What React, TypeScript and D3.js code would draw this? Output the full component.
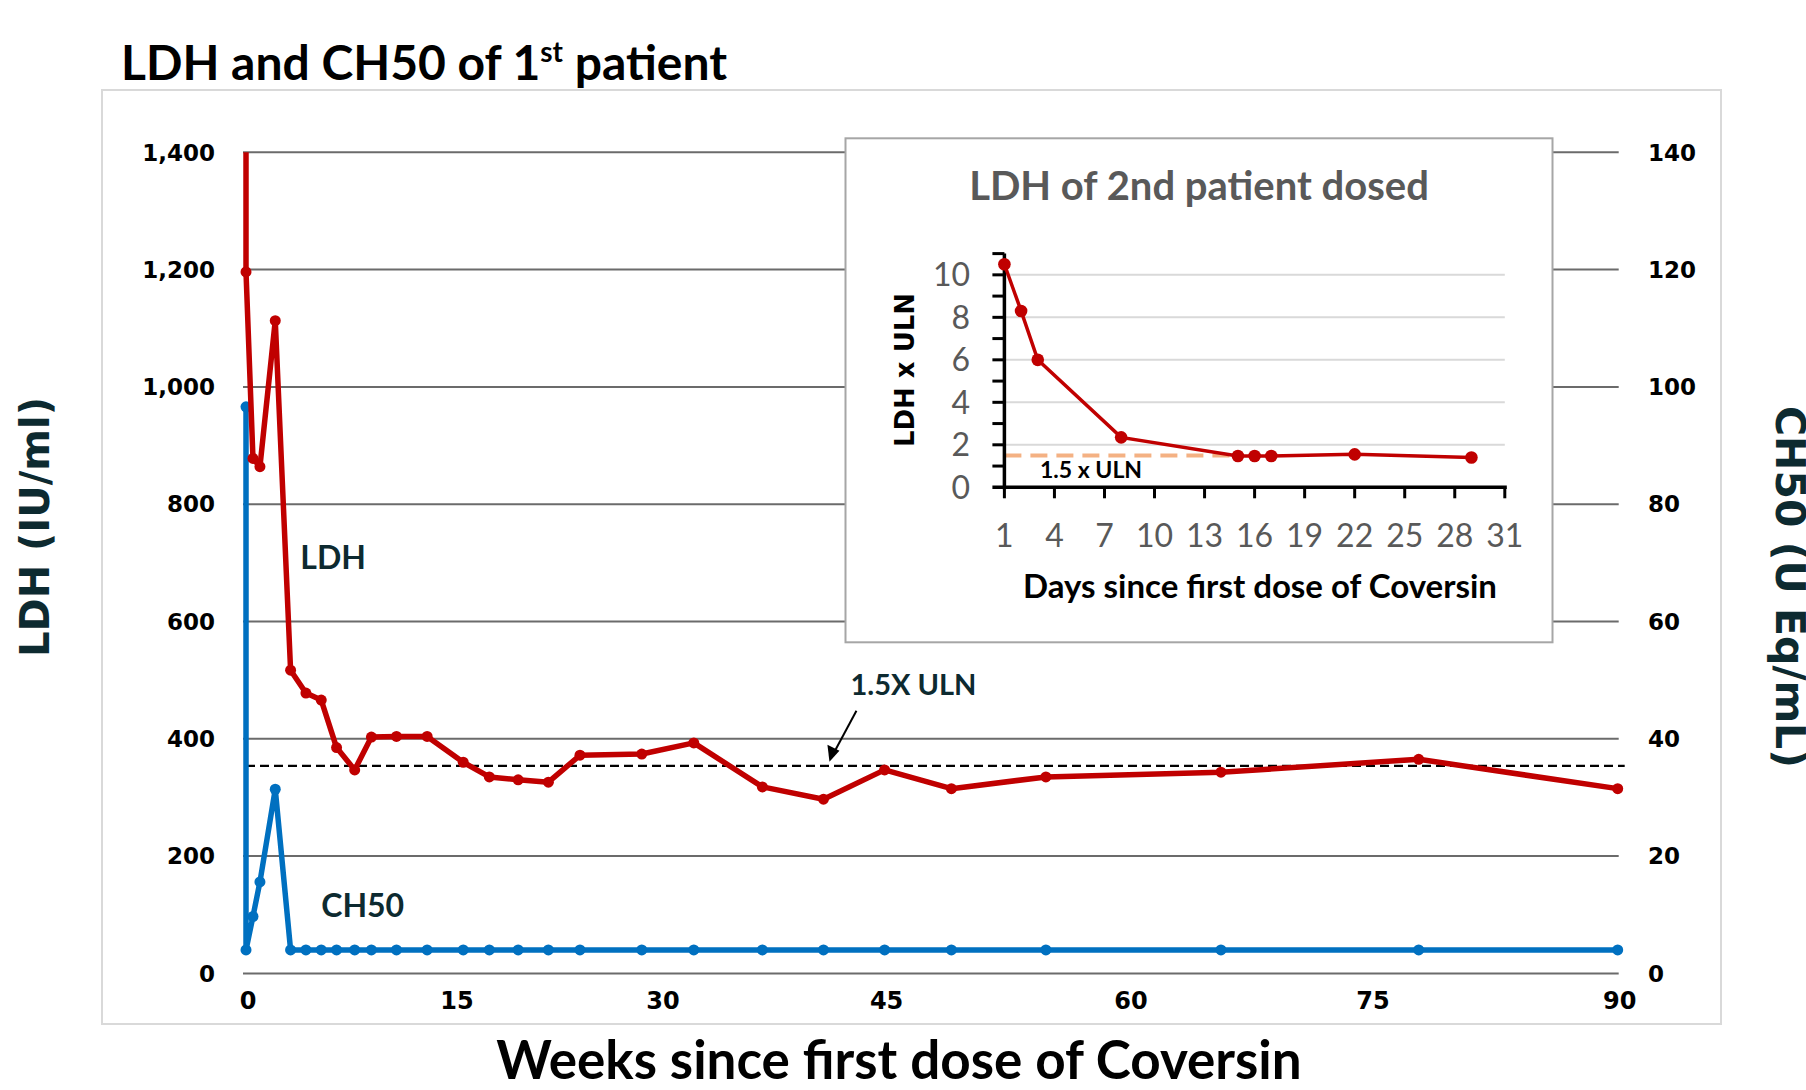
import React, { useEffect, useRef } from "react";
import * as d3 from "d3";

// patient 1: weeks since first dose, LDH (IU/ml) and CH50 (U Eq/mL)
const weeks = [0, 0, 0.5, 1, 2.1, 3.2, 4.3, 5.4, 6.5, 7.8, 9, 10.8, 13, 15.6, 17.5, 19.6, 21.8, 24.1, 28.6, 32.2, 36.8, 40.9, 45, 49.1, 54.9, 65.7, 77.9, 90];
const ldh = [1500, 1196, 878, 864, 1113, 517, 478, 466, 385, 347, 403, 404, 404, 360, 335, 330, 326, 372, 374, 393, 318, 297, 347, 315, 335, 343, 365, 315];
const ch50 = [96.6, 4, 9.7, 15.6, 31.4, 4, 4, 4, 4, 4, 4, 4, 4, 4, 4, 4, 4, 4, 4, 4, 4, 4, 4, 4, 4, 4, 4, 4];
const weekTicks = [0, 15, 30, 45, 60, 75, 90];
const ldhTicks = [0, 200, 400, 600, 800, 1000, 1200, 1400];
const ch50Ticks = [0, 20, 40, 60, 80, 100, 120, 140];
const ldhUlnLimit = 354;

// patient 2 (inset): days since first dose, LDH x ULN
const days = [1, 2, 3, 8, 15, 16, 17, 22, 29];
const ldhXUln = [10.5, 8.3, 6.0, 2.35, 1.47, 1.47, 1.47, 1.55, 1.4];
const dayTicks = [1, 4, 7, 10, 13, 16, 19, 22, 25, 28, 31];
const ulnTicks = [0, 2, 4, 6, 8, 10];
const insetLimit = 1.5;

const CAL = "Lato, 'Open Sans', sans-serif";
const VER = "'DejaVu Sans', Verdana, sans-serif";
const RED = "#c00000";
const BLUE = "#0070c0";
const INK = "#0d2a30";

const App = () => {
  const chartRef = useRef<SVGSVGElement>(null);

  const drawChart = () => {
    const svg = d3.select(chartRef.current);
    svg.selectAll("*").remove();

    // weeks axis is unevenly spaced in the original, so use a piecewise scale
    const x = d3.scaleLinear().domain(weekTicks).range([246, 455, 661, 884.6, 1129, 1371, 1617.7]);
    const y = d3.scaleLinear().domain([0, 1400]).range([973.4, 152.3]);
    const y2 = d3.scaleLinear().domain([0, 140]).range([973.4, 152.3]);
    const [x0, x1] = [x(0), x(90)];

    svg.append("rect").attr("width", 1806).attr("height", 1090).attr("fill", "#fff");
    svg.append("rect")
      .attr("x", 102).attr("y", 90).attr("width", 1619).attr("height", 934)
      .attr("fill", "#fff").attr("stroke", "#d9d9d9").attr("stroke-width", 2);

    // title
    const title = svg.append("text")
      .attr("x", 121).attr("y", 80)
      .attr("font-family", CAL).attr("font-weight", 700).attr("font-size", 48)
      .attr("fill", "#000");
    title.append("tspan").text("LDH and CH50 of 1");
    title.append("tspan").attr("dy", -18).attr("font-size", 28).text("st");
    title.append("tspan").attr("dy", 18).text(" patient");

    // gridlines
    svg.append("g").selectAll("line").data(ldhTicks).join("line")
      .attr("x1", x0 - 3).attr("x2", x1 + 1)
      .attr("y1", (d) => y(d)).attr("y2", (d) => y(d))
      .attr("stroke", "#6b6b6b").attr("stroke-width", 2);

    // tick labels
    svg.append("g").selectAll("text").data(ldhTicks).join("text")
      .attr("x", 215).attr("y", (d) => y(d)).attr("dy", "0.36em")
      .attr("text-anchor", "end")
      .attr("font-family", VER).attr("font-weight", 700).attr("font-size", 23)
      .text((d) => d3.format(",")(d));
    svg.append("g").selectAll("text").data(ch50Ticks).join("text")
      .attr("x", 1648).attr("y", (d) => y2(d)).attr("dy", "0.36em")
      .attr("font-family", VER).attr("font-weight", 700).attr("font-size", 23)
      .text((d) => d);
    svg.append("g").selectAll("text").data(weekTicks).join("text")
      .attr("x", (d) => x(d) + 2).attr("y", 1009)
      .attr("text-anchor", "middle")
      .attr("font-family", VER).attr("font-weight", 700).attr("font-size", 24)
      .text((d) => d);

    // axis titles
    svg.append("text")
      .attr("transform", "translate(49,527) rotate(-90)")
      .attr("text-anchor", "middle")
      .attr("font-family", VER).attr("font-weight", 700).attr("font-size", 40)
      .attr("fill", INK)
      .text("LDH (IU/ml)");
    svg.append("text")
      .attr("transform", "translate(1776,587) rotate(90)")
      .attr("text-anchor", "middle")
      .attr("font-family", VER).attr("font-weight", 700).attr("font-size", 41)
      .attr("fill", INK)
      .text("CH50 (U Eq/mL)");
    svg.append("text")
      .attr("x", 899).attr("y", 1079)
      .attr("text-anchor", "middle")
      .attr("font-family", CAL).attr("font-weight", 700).attr("font-size", 53)
      .attr("fill", "#000")
      .text("Weeks since first dose of Coversin");

    // 1.5x ULN reference line
    svg.append("line")
      .attr("x1", x0).attr("x2", x1 + 7)
      .attr("y1", y(ldhUlnLimit)).attr("y2", y(ldhUlnLimit))
      .attr("stroke", "#000").attr("stroke-width", 2.2).attr("stroke-dasharray", "9,5");

    // series
    svg.append("clipPath").attr("id", "plotClip")
      .append("rect").attr("x", x0 - 20).attr("y", y(1400))
      .attr("width", x1 - x0 + 40).attr("height", y(0) - y(1400) + 20);
    const plot = svg.append("g").attr("clip-path", "url(#plotClip)");

    const series = [
      { values: ch50, sy: y2, color: BLUE },
      { values: ldh, sy: y, color: RED },
    ];
    series.forEach((s) => {
      const line = d3.line<number>().x((d, i) => x(weeks[i])).y((d) => s.sy(d));
      plot.append("path").datum(s.values)
        .attr("d", line)
        .attr("fill", "none").attr("stroke", s.color)
        .attr("stroke-width", 5.5).attr("stroke-linejoin", "round");
      plot.append("g").selectAll("circle").data(s.values).join("circle")
        .attr("cx", (d, i) => x(weeks[i])).attr("cy", (d) => s.sy(d))
        .attr("r", 5.5).attr("fill", s.color);
    });

    // series labels
    svg.append("text")
      .attr("x", x(3.9)).attr("y", y(690))
      .attr("font-family", CAL).attr("font-weight", 700).attr("font-size", 32)
      .attr("fill", INK).text("LDH");
    svg.append("text")
      .attr("x", x(5.4)).attr("y", y(96))
      .attr("font-family", CAL).attr("font-weight", 700).attr("font-size", 32)
      .attr("fill", INK).text("CH50");

    // annotation arrow
    const tipX = x(41.3);
    const tipY = y(ldhUlnLimit) - 4;
    svg.append("line")
      .attr("x1", tipX + 27).attr("y1", tipY - 51)
      .attr("x2", tipX + 5).attr("y2", tipY - 10)
      .attr("stroke", "#000").attr("stroke-width", 2);
    svg.append("path")
      .attr("d", `M${tipX},${tipY} L${tipX - 2},${tipY - 17} L${tipX + 10},${tipY - 11} Z`)
      .attr("fill", "#000");
    svg.append("text")
      .attr("x", tipX + 21).attr("y", tipY - 67)
      .attr("font-family", CAL).attr("font-weight", 700).attr("font-size", 29)
      .attr("fill", INK).text("1.5X ULN");

    // ---- inset: 2nd patient ----
    svg.append("rect")
      .attr("x", 845.5).attr("y", 138.3).attr("width", 707).attr("height", 504)
      .attr("fill", "#fff").attr("stroke", "#a6a6a6").attr("stroke-width", 2);
    svg.append("text")
      .attr("x", 1199).attr("y", 200)
      .attr("text-anchor", "middle")
      .attr("font-family", CAL).attr("font-weight", 700).attr("font-size", 40)
      .attr("fill", "#595959").text("LDH of 2nd patient dosed");

    const ix = d3.scaleLinear().domain([1, 31]).range([1004.4, 1504.8]);
    const iy = d3.scaleLinear().domain([0, 11]).range([487.3, 253.6]);

    svg.append("g").selectAll("line").data(ulnTicks.filter((d) => d > 0)).join("line")
      .attr("x1", ix(1)).attr("x2", ix(31))
      .attr("y1", (d) => iy(d)).attr("y2", (d) => iy(d))
      .attr("stroke", "#d9d9d9").attr("stroke-width", 2);

    svg.append("line")
      .attr("x1", ix(1)).attr("x2", ix(14.5))
      .attr("y1", iy(insetLimit)).attr("y2", iy(insetLimit))
      .attr("stroke", "#f4b183").attr("stroke-width", 4).attr("stroke-dasharray", "17,9");

    // inset axes
    svg.append("line")
      .attr("x1", ix(1)).attr("x2", ix(1)).attr("y1", iy(0) + 2).attr("y2", iy(11))
      .attr("stroke", "#000").attr("stroke-width", 3.5);
    svg.append("line")
      .attr("x1", ix(1) - 12).attr("x2", ix(31) + 2).attr("y1", iy(0)).attr("y2", iy(0))
      .attr("stroke", "#000").attr("stroke-width", 3.5);
    svg.append("g").selectAll("line").data(d3.range(1, 12)).join("line")
      .attr("x1", ix(1) - 12).attr("x2", ix(1))
      .attr("y1", (d) => iy(d)).attr("y2", (d) => iy(d))
      .attr("stroke", "#000").attr("stroke-width", 3);
    svg.append("g").selectAll("line").data(dayTicks).join("line")
      .attr("x1", (d) => ix(d)).attr("x2", (d) => ix(d))
      .attr("y1", iy(0)).attr("y2", iy(0) + 11)
      .attr("stroke", "#000").attr("stroke-width", 3);

    svg.append("g").selectAll("text").data(ulnTicks).join("text")
      .attr("x", 970).attr("y", (d) => iy(d)).attr("dy", "0.36em")
      .attr("text-anchor", "end")
      .attr("font-family", CAL).attr("font-size", 32).attr("fill", "#595959")
      .text((d) => d);
    svg.append("g").selectAll("text").data(dayTicks).join("text")
      .attr("x", (d) => ix(d)).attr("y", 547)
      .attr("text-anchor", "middle")
      .attr("font-family", CAL).attr("font-size", 32).attr("fill", "#595959")
      .text((d) => d);

    const insetLine = d3.line<number>().x((d, i) => ix(days[i])).y((d) => iy(d));
    svg.append("path").datum(ldhXUln)
      .attr("d", insetLine)
      .attr("fill", "none").attr("stroke", RED).attr("stroke-width", 3.5);
    svg.append("g").selectAll("circle").data(ldhXUln).join("circle")
      .attr("cx", (d, i) => ix(days[i])).attr("cy", (d) => iy(d))
      .attr("r", 6.3).attr("fill", RED);

    svg.append("text")
      .attr("x", 1040).attr("y", 478)
      .attr("font-family", CAL).attr("font-weight", 700).attr("font-size", 23)
      .attr("fill", "#000").text("1.5 x ULN");
    svg.append("text")
      .attr("transform", "translate(914,370) rotate(-90)")
      .attr("text-anchor", "middle")
      .attr("font-family", VER).attr("font-weight", 700).attr("font-size", 26)
      .attr("fill", "#000").text("LDH x ULN");
    svg.append("text")
      .attr("x", 1260).attr("y", 598)
      .attr("text-anchor", "middle")
      .attr("font-family", CAL).attr("font-weight", 700).attr("font-size", 33)
      .attr("fill", "#000").text("Days since first dose of Coversin");
  };

  useEffect(() => {
    drawChart();
  }, []);

  return (
    <svg
      ref={chartRef}
      width={1806}
      height={1090}
      style={{ position: "absolute", left: 0, top: 0, display: "block" }}
    />
  );
};

export default App;
